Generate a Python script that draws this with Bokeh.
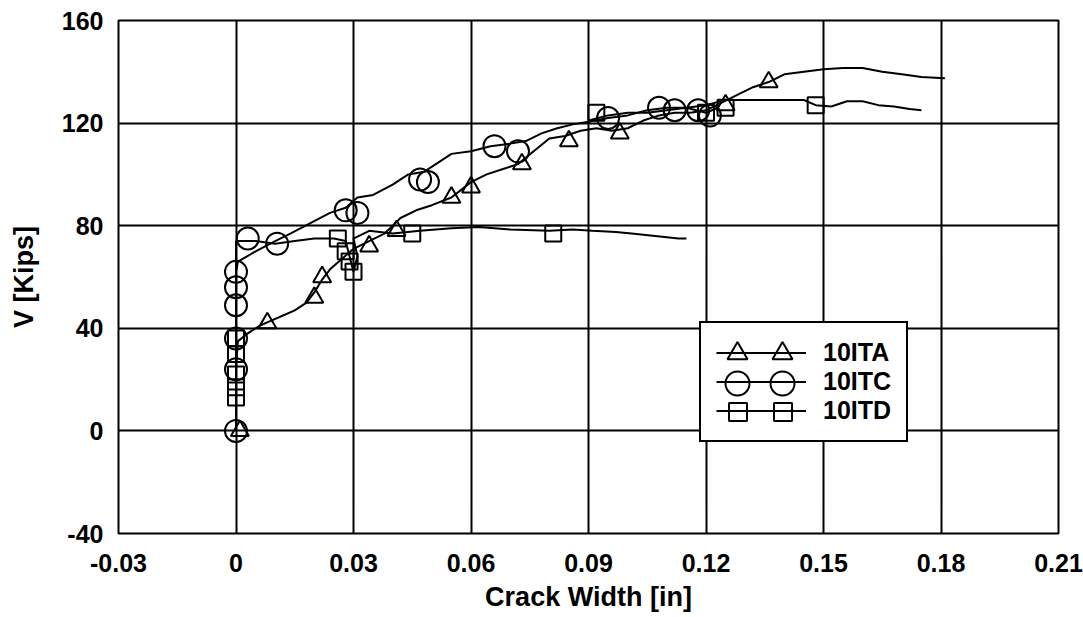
from bokeh.plotting import figure
from bokeh.models import Range1d, FixedTicker, Legend, LegendItem
from bokeh.embed import file_html
from bokeh.resources import INLINE

# ---- axis ticks ----
x_ticks = [-0.03, 0, 0.03, 0.06, 0.09, 0.12, 0.15, 0.18, 0.21]
x_tick_labels = ["-0.03", "0", "0.03", "0.06", "0.09", "0.12", "0.15", "0.18", "0.21"]
y_ticks = [-40, 0, 40, 80, 120, 160]
y_tick_labels = ["-40", "0", "40", "80", "120", "160"]

series_names = ["10ITA", "10ITC", "10ITD"]

# ---- 10ITA (triangles) ----
ita_x = [0.000, 0.000, 0.000, 0.0005, 0.003, 0.006, 0.009, 0.012, 0.015, 0.018,
         0.020, 0.022, 0.024, 0.027, 0.030, 0.034, 0.038, 0.042, 0.046, 0.050,
         0.055, 0.060, 0.064, 0.068, 0.072, 0.076, 0.080, 0.084, 0.088, 0.092,
         0.096, 0.100, 0.104, 0.108, 0.112, 0.116, 0.120, 0.124, 0.128, 0.132,
         0.136, 0.140, 0.145, 0.150, 0.155, 0.160, 0.165, 0.170, 0.175, 0.181]
ita_y = [0, 12, 25, 35, 38, 41, 43, 45, 47, 50,
         54, 59, 63, 67, 71, 74, 77, 83, 86, 88,
         91, 97, 100, 102, 104, 109, 114, 115, 117, 118,
         117, 118, 121, 123, 124, 124, 125, 128, 131, 134,
         136, 139, 140, 141, 141.5, 141.5, 140, 139, 138, 137.5]
ita_mx = [0.001, 0.008, 0.020, 0.022, 0.034, 0.041, 0.055, 0.060, 0.073, 0.085, 0.098, 0.125, 0.136]
ita_my = [0, 42, 52, 60, 72, 78, 91, 95, 104, 113, 116, 127, 136]

# ---- 10ITC (circles) ----
itc_x = [0, 0, 0, 0.0005, 0.005, 0.010, 0.014, 0.019, 0.024,
         0.028, 0.031, 0.035, 0.040, 0.044, 0.048, 0.052, 0.055, 0.060, 0.065,
         0.070, 0.074, 0.078, 0.082, 0.086, 0.090, 0.095, 0.100, 0.105, 0.110,
         0.115, 0.120, 0.123]
itc_y = [0, 30, 62, 66, 70, 74, 77, 81, 85,
         87, 91, 92, 96, 100, 101, 105, 108, 109, 111,
         112, 113, 116, 118, 119.5, 120.5, 122, 123, 125, 126,
         126, 124, 126]
itc_mx = [0, 0, 0, 0, 0, 0, 0.003, 0.0105, 0.028, 0.031, 0.047, 0.049, 0.066, 0.072,
          0.095, 0.108, 0.112, 0.118, 0.121]
itc_my = [0, 24, 36, 49, 56, 62, 75, 73, 86, 85, 98, 97, 111, 109,
          122, 126, 125, 125, 123]

# ---- 10ITD (squares) ----
itd_x = [0, 0, 0, 0, 0.005, 0.010, 0.015, 0.020, 0.025,
         0.028, 0.029, 0.030, 0.031, 0.030, 0.034, 0.040, 0.047, 0.055, 0.062,
         0.070, 0.080, 0.086, 0.091, 0.097, 0.101, 0.107, 0.113, 0.115]
itd_y = [0, 38, 66, 74, 74, 73, 74, 75, 75,
         74, 68, 62, 68, 75, 78, 77, 78, 79, 79.5,
         78.5, 78, 78.5, 78, 77.5, 77, 76, 75, 75]
itd_mx = [0, 0, 0, 0, 0, 0.026, 0.028, 0.029, 0.030, 0.045, 0.081]
itd_my = [13, 17, 22, 30, 36, 75, 70, 66, 62, 77, 77]

itd2_x = [0.090, 0.095, 0.100, 0.105, 0.110, 0.115, 0.120, 0.125, 0.130, 0.135,
          0.140, 0.145, 0.148, 0.152, 0.156, 0.160, 0.164, 0.168, 0.172, 0.175]
itd2_y = [121, 123, 124, 124, 125, 126, 127, 129, 129, 129,
          129, 129, 127, 126.5, 128.5, 128.5, 127, 126.5, 125.5, 125]
itd2_mx = [0.092, 0.120, 0.125, 0.148]
itd2_my = [124, 124, 126, 127]

FONT = "Liberation Sans"
FRAME_L, FRAME_B = 118, 533   # frame left / bottom in canvas pixels

p = figure(width=1083, height=617,
           x_range=Range1d(-0.03, 0.21), y_range=Range1d(-40, 160),
           output_backend="svg", toolbar_location=None,
           min_border_left=FRAME_L, min_border_right=25,
           min_border_top=20, min_border_bottom=617 - FRAME_B,
           background_fill_color="white", border_fill_color="white",
           outline_line_color="black", outline_line_width=2)

p.xaxis.ticker = FixedTicker(ticks=x_ticks)
p.yaxis.ticker = FixedTicker(ticks=y_ticks)
p.xaxis.major_label_overrides = dict(zip(x_ticks, x_tick_labels))
p.yaxis.major_label_overrides = dict(zip(y_ticks, y_tick_labels))
p.xgrid.ticker = FixedTicker(ticks=x_ticks)
p.ygrid.ticker = FixedTicker(ticks=y_ticks)

for g in (p.xgrid[0], p.ygrid[0]):
    g.grid_line_color = "black"
    g.grid_line_width = 2

for ax in (p.xaxis[0], p.yaxis[0]):
    ax.axis_line_color = None
    ax.major_tick_line_color = None
    ax.minor_tick_line_color = None
    ax.major_tick_in = 0
    ax.major_tick_out = 0
    ax.minor_tick_in = 0
    ax.minor_tick_out = 0
    ax.major_label_text_font = FONT
    ax.major_label_text_font_size = "25px"
    ax.major_label_text_font_style = "bold"
    ax.major_label_text_color = "black"
    ax.axis_label_text_font = FONT
    ax.axis_label_text_font_size = "27px"
    ax.axis_label_text_font_style = "bold"
    ax.axis_label_text_color = "black"

p.xaxis.axis_label = "Crack Width [in]"
p.yaxis.axis_label = "V [Kips]"
p.xaxis.major_label_standoff = 20
p.xaxis.axis_label_standoff = 7
p.yaxis.major_label_standoff = 15
p.yaxis.axis_label_standoff = 20

line_kw = dict(line_color="black", line_width=2)
mk_kw = dict(line_color="black", line_width=2, fill_color=None)

ita_line = p.line(ita_x, ita_y, **line_kw)
itc_line = p.line(itc_x, itc_y, **line_kw)
itd_line = p.line(itd_x, itd_y, **line_kw)
itd2_line = p.line(itd2_x, itd2_y, **line_kw)

ita_pts = p.scatter(ita_mx, ita_my, marker="triangle", size=18, **mk_kw)
itc_pts = p.scatter(itc_mx, itc_my, marker="circle", size=22, **mk_kw)
itd_pts = p.scatter(itd_mx, itd_my, marker="square", size=16, **mk_kw)
itd2_pts = p.scatter(itd2_mx, itd2_my, marker="square", size=16, **mk_kw)

# main legend box: lines + labels
leg_main = Legend(
    items=[LegendItem(label=series_names[0], renderers=[ita_line]),
           LegendItem(label=series_names[1], renderers=[itc_line]),
           LegendItem(label=series_names[2], renderers=[itd_line])],
    location=(699 - FRAME_L, FRAME_B - 442), glyph_width=90, glyph_height=29, label_height=29,
    spacing=0, padding=15, label_standoff=17,
    label_text_font=FONT, label_text_font_size="25px", label_text_font_style="bold",
    label_text_color="black",
    border_line_color="black", border_line_width=2, border_line_alpha=1.0,
    background_fill_color="white", background_fill_alpha=1.0)
p.add_layout(leg_main, "center")

# two marker glyphs per legend entry (single-item transparent legends)
row_y = [353, 383, 411]
mark_x = [737, 782]
glyph_px = [50, 60, 45]
for rend, cy, gpx in zip([ita_pts, itc_pts, itd_pts], row_y, glyph_px):
    for cx in mark_x:
        leg_mk = Legend(
            items=[LegendItem(label=" ", renderers=[rend])],
            location=(cx - gpx / 2 - FRAME_L, FRAME_B - cy - gpx / 2),
            glyph_width=gpx, glyph_height=gpx, label_height=gpx,
            spacing=0, padding=0, label_standoff=0, label_width=0,
            label_text_font=FONT, label_text_font_size="1px",
            border_line_color=None, background_fill_alpha=0.0)
        p.add_layout(leg_mk, "center")

open("out.html", "w").write(file_html(p, INLINE))
